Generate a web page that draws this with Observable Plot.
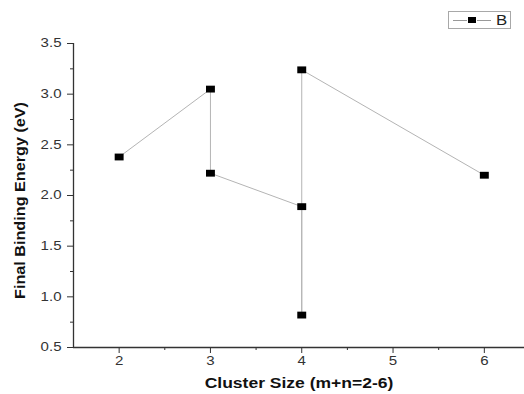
<!DOCTYPE html>
<html>
<head>
<meta charset="utf-8">
<script src="https://cdn.jsdelivr.net/npm/d3@7"></script>
<script src="https://cdn.jsdelivr.net/npm/@observablehq/plot@0.6"></script>
<style>
  html, body { margin: 0; padding: 0; background: #fff; }
  #wrap { position: relative; width: 524px; height: 394px; font-family: "Liberation Sans", Arial, sans-serif; }
  #legend { position: absolute; left: 448px; top: 11px; width: 63px; height: 18px; border: 1px solid #a8a8a8; background: #fff; display: flex; align-items: center; box-sizing: border-box; padding-left: 4px; }
  #legend .ln { display: inline-block; width: 14px; height: 1px; background: #999; }
  #legend .mk { display: inline-block; width: 8px; height: 6px; background: #000; margin: 0 1px; }
  #legend .lb { font-size: 14px; color: #222; margin-left: 5px; transform: scaleX(1.2); transform-origin: left center; display: inline-block; }
</style>
</head>
<body>
<div id="wrap">
  <div id="chart"></div>
  <div id="legend"><span class="ln"></span><span class="mk"></span><span class="ln"></span><span class="lb">B</span></div>
</div>
<script>
const clusterSize = [2, 3, 3, 4, 4, 4, 6];
const bindingEnergy = [2.38, 3.05, 2.22, 1.89, 0.82, 3.24, 2.20];
const xMajorTicks = [2, 3, 4, 5, 6];
const xMinorTicks = [2.5, 3.5, 4.5, 5.5];
const yMajorTicks = [0.5, 1.0, 1.5, 2.0, 2.5, 3.0, 3.5];
const yMinorTicks = [0.75, 1.25, 1.75, 2.25, 2.75, 3.25];
const xTitle = "Cluster Size (m+n=2-6)";
const yTitle = "Final Binding Energy (eV)";

const data = clusterSize.map((x, i) => ({x, y: bindingEnergy[i]}));
const axisColor = "#333";

// slightly wide square marker (the reference image is stretched horizontally)
const wideSquare = {
  draw(context, size) {
    const s = Math.sqrt(size);
    const w = s * 0.6, h = s * 0.46;
    context.moveTo(-w, -h);
    context.lineTo(w, -h);
    context.lineTo(w, h);
    context.lineTo(-w, h);
    context.closePath();
  }
};

const chart = Plot.plot({
  width: 524,
  height: 394,
  marginLeft: 73,
  marginRight: 0,
  marginTop: 43,
  marginBottom: 47,
  style: { fontFamily: "'Liberation Sans', Arial, sans-serif", fontSize: "12px", color: "#333", background: "#fff" },
  x: { domain: [1.5, 6.44] },
  y: { domain: [0.5, 3.5] },
  marks: [
    Plot.axisX({ticks: xMajorTicks, tickSize: 6, tickPadding: 3, tickFormat: d => String(d), fontSize: 12, stroke: axisColor, fill: "#333", label: null}),
    Plot.axisX({ticks: xMinorTicks, tickSize: 3, tickFormat: () => "", stroke: axisColor, label: null}),
    Plot.axisY({ticks: yMajorTicks, tickSize: 6, tickPadding: 6, tickFormat: d => d.toFixed(1), fontSize: 12, stroke: axisColor, fill: "#333", label: null}),
    Plot.axisY({ticks: yMinorTicks, tickSize: 3, tickFormat: () => "", stroke: axisColor, label: null}),
    Plot.ruleX([1.5], {stroke: axisColor, strokeWidth: 1.3}),
    Plot.ruleY([0.5], {stroke: axisColor, strokeWidth: 1.3}),
    Plot.line(data, {x: "x", y: "y", stroke: "#b4b4b4", strokeWidth: 1}),
    Plot.dot(data, {x: "x", y: "y", symbol: wideSquare, r: 4.2, fill: "#000", stroke: "none"}),
    Plot.text([xTitle], {frameAnchor: "bottom", dy: 40, text: d => d, fontSize: 14, fontWeight: "bold", fill: "#111", className: "x-title"}),
    Plot.text([yTitle], {frameAnchor: "left", dx: -53, dy: 5, rotate: -90, textAnchor: "middle", text: d => d, fontSize: 15.5, fontWeight: "bold", fill: "#111", className: "y-title"})
  ]
});
document.getElementById("chart").appendChild(chart);

// emulate the horizontal stretch of the reference text
const stretch = 1.25;
d3.select(chart).selectAll("text").each(function () {
  const t = this.textContent;
  if (!t) return;
  const cls = (this.closest("g") && this.closest("g").getAttribute("class")) || "";
  if (cls.includes("y-title")) {
    this.setAttribute("textLength", 197);
    this.setAttribute("lengthAdjust", "spacingAndGlyphs");
  } else {
    const len = this.getComputedTextLength();
    if (len > 0) {
      this.setAttribute("textLength", (len * stretch).toFixed(1));
      this.setAttribute("lengthAdjust", "spacingAndGlyphs");
    }
  }
});
</script>
</body>
</html>
